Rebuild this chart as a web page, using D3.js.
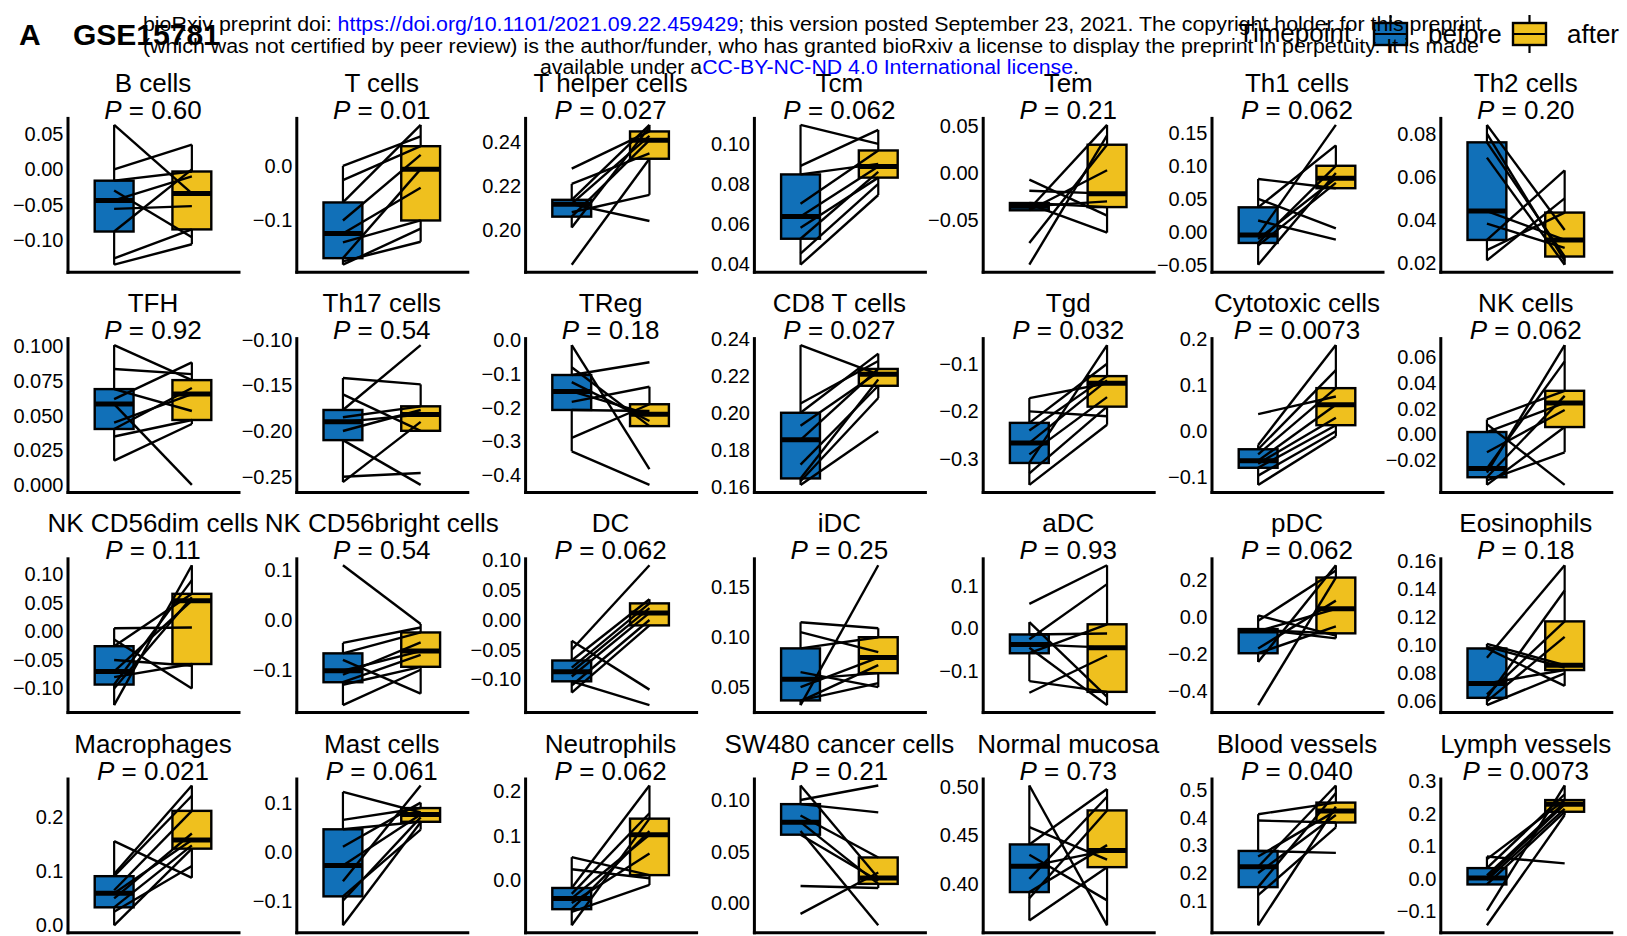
<!DOCTYPE html>
<html lang="en">
<head>
  <meta charset="UTF-8" />
  <title>GSE15781 paired boxplots</title>
  <style>
    body { margin: 0; background: #fff; }
    svg { display: block; font-family: 'Liberation Sans', Arial, Helvetica, sans-serif; }
    .pair { stroke: #000; stroke-width: 2.4; }
    .box { stroke: #000; stroke-width: 2.4; }
    .whisker { stroke: #000; stroke-width: 2.2; }
    .median { stroke: #000; stroke-width: 5; }
    .axis path { stroke: #000; stroke-width: 3; stroke-linecap: square; }
    .axis text { font-size: 20px; fill: #000; font-family: 'Liberation Sans', Arial, sans-serif; }
    .title { font-size: 26px; fill: #000; }
    .wm { font-size: 20px; fill: #000; }
    .link { fill: #0000ff; }
  </style>
</head>
<body>
  <div id="chart"></div>

  <script src="https://d3js.org/d3.v7.min.js"></script>
  <script>
    // ---- data (one entry per panel, row by row) ----
    const cellTypes = [
      "B cells", "T cells", "T helper cells", "Tcm", "Tem", "Th1 cells", "Th2 cells",
      "TFH", "Th17 cells", "TReg", "CD8 T cells", "Tgd", "Cytotoxic cells", "NK cells",
      "NK CD56dim cells", "NK CD56bright cells", "DC", "iDC", "aDC", "pDC", "Eosinophils",
      "Macrophages", "Mast cells", "Neutrophils", "SW480 cancer cells", "Normal mucosa", "Blood vessels", "Lymph vessels"
    ];

    const pValues = [
      "0.60", "0.01", "0.027", "0.062", "0.21", "0.062", "0.20",
      "0.92", "0.54", "0.18", "0.027", "0.032", "0.0073", "0.062",
      "0.11", "0.54", "0.062", "0.25", "0.93", "0.062", "0.18",
      "0.021", "0.061", "0.062", "0.21", "0.73", "0.040", "0.0073"
    ];

    // before[i][j] is paired with after[i][j]
    const beforeValues = [
      [0.063, 0.0, -0.016, -0.03, -0.044, -0.056, -0.088, -0.126, -0.135],
      [0.0, -0.026, -0.067, -0.10, -0.124, -0.14, -0.169, -0.175, -0.181],
      [0.228, 0.221, 0.2137, 0.212, 0.2117, 0.208, 0.206, 0.201, 0.184],
      [0.1095, 0.089, 0.0847, 0.07, 0.0636, 0.058, 0.0525, 0.045, 0.0395],
      [-0.007, -0.0187, -0.038, -0.074, -0.097, -0.0394, -0.0352, -0.033, -0.0317],
      [0.081, 0.051, 0.038, 0.018, -0.004, -0.01, -0.016, -0.02, -0.049],
      [0.0841, 0.080, 0.076, 0.0689, 0.0441, 0.0383, 0.0307, 0.026, 0.0212],
      [0.101, 0.0837, 0.0692, 0.062, 0.0584, 0.045, 0.0404, 0.035, 0.0175],
      [-0.142, -0.16, -0.177, -0.185, -0.19, -0.2, -0.21, -0.25, -0.256],
      [-0.014, -0.08, -0.103, -0.124, -0.152, -0.183, -0.207, -0.29, -0.33],
      [0.2366, 0.205, 0.20, 0.193, 0.1854, 0.172, 0.1645, 0.163, 0.161],
      [-0.172, -0.20, -0.224, -0.24, -0.266, -0.29, -0.308, -0.33, -0.354],
      [0.037, -0.03, -0.039, -0.05, -0.064, -0.07, -0.079, -0.096, -0.116],
      [0.0116, 0.008, 0.0018, -0.014, -0.0266, -0.03, -0.0335, -0.036, -0.0395],
      [0.0058, -0.014, -0.0258, -0.05, -0.07, -0.08, -0.093, -0.10, -0.129],
      [0.11, -0.046, -0.067, -0.08, -0.102, -0.11, -0.125, -0.13, -0.171],
      [-0.035, -0.05, -0.068, -0.08, -0.087, -0.095, -0.103, -0.11, -0.122],
      [0.115, 0.105, 0.0888, 0.065, 0.058, 0.05, 0.0367, 0.036, 0.032],
      [0.0577, 0.015, -0.0138, -0.025, -0.037, -0.045, -0.0577, -0.123, -0.15],
      [0.009, -0.02, -0.065, -0.07, -0.076, -0.17, -0.195, -0.242, -0.474],
      [0.101, 0.099, 0.0977, 0.091, 0.0727, 0.065, 0.0625, 0.06, 0.0573],
      [0.156, 0.095, 0.091, 0.065, 0.0594, 0.05, 0.0333, 0.025, 0.0],
      [0.122, 0.065, 0.0457, 0.01, -0.028, -0.06, -0.091, -0.1, -0.15],
      [0.052, 0.025, -0.0167, -0.03, -0.04, -0.05, -0.064, -0.07, -0.1],
      [0.114, 0.1, 0.096, 0.085, 0.0786, 0.07, 0.0665, 0.017, -0.01],
      [0.5017, 0.4586, 0.4407, 0.43, 0.418, 0.405, 0.3914, 0.385, 0.362],
      [0.413, 0.39, 0.28, 0.26, 0.2226, 0.2, 0.149, 0.12, 0.0107],
      [0.068, 0.06, 0.0323, 0.01, 0.002, -0.005, -0.018, -0.099, -0.144]
    ];

    const afterValues = [
      [-0.034, 0.035, -0.003, -0.096, -0.01, -0.052, 0.0, -0.085, -0.106],
      [0.054, 0.036, 0.075, 0.02, -0.04, -0.1, -0.006, -0.139, -0.115],
      [0.245, 0.235, 0.248, 0.243, 0.204, 0.216, 0.241, 0.247, 0.2325],
      [0.100, 0.107, 0.09, 0.0967, 0.0887, 0.0831, 0.086, 0.08, 0.0744],
      [-0.045, -0.0218, 0.051, 0.03, 0.04, 0.003, -0.03, -0.063, -0.036],
      [0.067, 0.006, 0.132, -0.011, 0.163, 0.082, 0.101, 0.075, 0.09],
      [0.0353, 0.021, 0.023, 0.0192, 0.0307, 0.027, 0.063, 0.0434, 0.05],
      [0.0757, 0.08, 0.0534, 0.0885, 0.0, 0.0656, 0.07, 0.0469, 0.044],
      [-0.149, -0.1998, -0.106, -0.173, -0.182, -0.177, -0.259, -0.246, -0.19],
      [-0.383, -0.255, -0.065, -0.24, -0.22, -0.138, -0.21, -0.19, -0.43],
      [0.2208, 0.228, 0.232, 0.222, 0.2237, 0.2146, 0.218, 0.208, 0.19],
      [-0.141, -0.21, -0.10, -0.126, -0.135, -0.17, -0.061, -0.19, -0.228],
      [0.075, 0.186, 0.132, 0.093, 0.057, 0.029, 0.013, 0.0, -0.011],
      [0.034, -0.0395, 0.0245, 0.019, 0.057, 0.0697, 0.03, -0.014, 0.0057],
      [0.007, -0.10, 0.066, -0.06, 0.054, -0.057, 0.09, 0.06, 0.116],
      [-0.008, -0.015, -0.025, -0.148, -0.0625, -0.045, -0.07, -0.094, -0.1],
      [-0.117, 0.092, 0.035, 0.028, 0.02, 0.012, -0.143, 0.0, -0.009],
      [0.109, 0.085, 0.10, 0.05, 0.064, 0.0796, 0.054, 0.072, 0.172],
      [0.148, -0.16, -0.0115, 0.104, -0.0446, -0.179, 0.01, -0.148, -0.063],
      [-0.1, 0.25, -0.115, -0.088, 0.044, 0.088, -0.05, 0.278, 0.212],
      [0.0857, 0.084, 0.071, 0.157, 0.0823, 0.117, 0.139, 0.106, 0.08],
      [0.088, 0.259, 0.24, 0.212, 0.158, 0.17, 0.148, 0.11, 0.142],
      [0.08, 0.089, 0.061, 0.1, 0.076, 0.135, 0.045, 0.07, 0.06],
      [0.012, 0.005, 0.212, 0.15, 0.102, 0.06, 0.11, -0.01, 0.138],
      [0.0247, 0.114, 0.088, 0.0445, 0.019, -0.021, 0.022, 0.015, 0.03],
      [0.357, 0.425, 0.498, 0.3828, 0.4345, 0.49, 0.44, 0.4759, 0.4172],
      [0.455, 0.383, 0.273, 0.425, 0.517, 0.41, 0.49, 0.365, 0.44],
      [0.047, 0.242, 0.26, 0.235, 0.229, 0.215, 0.206, 0.287, 0.196]
    ];

    const tickLabels = [
      ["−0.10", "−0.05", "0.00", "0.05"],
      ["−0.1", "0.0"],
      ["0.20", "0.22", "0.24"],
      ["0.04", "0.06", "0.08", "0.10"],
      ["−0.05", "0.00", "0.05"],
      ["−0.05", "0.00", "0.05", "0.10", "0.15"],
      ["0.02", "0.04", "0.06", "0.08"],
      ["0.000", "0.025", "0.050", "0.075", "0.100"],
      ["−0.25", "−0.20", "−0.15", "−0.10"],
      ["−0.4", "−0.3", "−0.2", "−0.1", "0.0"],
      ["0.16", "0.18", "0.20", "0.22", "0.24"],
      ["−0.3", "−0.2", "−0.1"],
      ["−0.1", "0.0", "0.1", "0.2"],
      ["−0.02", "0.00", "0.02", "0.04", "0.06"],
      ["−0.10", "−0.05", "0.00", "0.05", "0.10"],
      ["−0.1", "0.0", "0.1"],
      ["−0.10", "−0.05", "0.00", "0.05", "0.10"],
      ["0.05", "0.10", "0.15"],
      ["−0.1", "0.0", "0.1"],
      ["−0.4", "−0.2", "0.0", "0.2"],
      ["0.06", "0.08", "0.10", "0.12", "0.14", "0.16"],
      ["0.0", "0.1", "0.2"],
      ["−0.1", "0.0", "0.1"],
      ["0.0", "0.1", "0.2"],
      ["0.00", "0.05", "0.10"],
      ["0.40", "0.45", "0.50"],
      ["0.1", "0.2", "0.3", "0.4", "0.5"],
      ["−0.1", "0.0", "0.1", "0.2", "0.3"]
    ];

    const groups = ["before", "after"];
    const groupColors = ["#1170b8", "#efc01e"];

    // ---- layout ----
    const width = 1627, height = 936;
    const nCols = 7;
    const colX0 = 67.5, colStep = 228.8, panelW = 171;
    const rowBottom0 = 271.7, rowStep = 220.2, panelH = 153.8;

    const svg = d3.select("#chart").append("svg")
      .attr("width", width)
      .attr("height", height);

    svg.append("rect").attr("width", width).attr("height", height).attr("fill", "#fff");

    const x = d3.scalePoint().domain(groups).range([0, panelW]).padding(0.6);
    const boxW = x.step() * 0.5;

    // Tukey box stats (R type-7 quantiles)
    function boxStats(vals) {
      const s = vals.slice().sort(d3.ascending);
      const q1 = d3.quantileSorted(s, 0.25);
      const med = d3.quantileSorted(s, 0.5);
      const q3 = d3.quantileSorted(s, 0.75);
      const iqr = q3 - q1;
      const lo = d3.min(s.filter(v => v >= q1 - 1.5 * iqr));
      const hi = d3.max(s.filter(v => v <= q3 + 1.5 * iqr));
      return { q1, med, q3, lo, hi };
    }

    cellTypes.forEach((name, i) => {
      const col = i % nCols, row = Math.floor(i / nCols);
      const g = svg.append("g")
        .attr("transform", `translate(${colX0 + col * colStep},${rowBottom0 + row * rowStep - panelH})`);

      const [mn, mx] = d3.extent(beforeValues[i].concat(afterValues[i]));
      const pad = (mx - mn) * 0.05;
      const y = d3.scaleLinear().domain([mn - pad, mx + pad]).range([panelH, 0]);

      // boxes
      [beforeValues[i], afterValues[i]].forEach((vals, k) => {
        const st = boxStats(vals);
        const cx = x(groups[k]);
        g.append("line").attr("class", "whisker")
          .attr("x1", cx).attr("x2", cx).attr("y1", y(st.q3)).attr("y2", y(st.hi));
        g.append("line").attr("class", "whisker")
          .attr("x1", cx).attr("x2", cx).attr("y1", y(st.q1)).attr("y2", y(st.lo));
        g.append("rect").attr("class", "box")
          .attr("x", cx - boxW / 2)
          .attr("y", y(st.q3))
          .attr("width", boxW)
          .attr("height", y(st.q1) - y(st.q3))
          .attr("fill", groupColors[k]);
        g.append("line").attr("class", "median")
          .attr("x1", cx - boxW / 2).attr("x2", cx + boxW / 2)
          .attr("y1", y(st.med)).attr("y2", y(st.med));
      });

      // paired lines
      g.selectAll(".pair")
        .data(beforeValues[i].map((b, j) => [b, afterValues[i][j]]))
        .enter().append("line")
        .attr("class", "pair")
        .attr("x1", x("before")).attr("y1", d => y(d[0]))
        .attr("x2", x("after")).attr("y2", d => y(d[1]));

      // axes
      const ticks = tickLabels[i]
        .map(t => ({ label: t, value: +t.replace("−", "-") }))
        .filter(t => t.value >= y.domain()[0] && t.value <= y.domain()[1]);

      g.append("g").attr("class", "axis")
        .call(d3.axisLeft(y)
          .tickValues(ticks.map(t => t.value))
          .tickFormat((d, k) => ticks[k].label)
          .tickSize(0).tickSizeOuter(0).tickPadding(4))
        .attr("font-family", null).attr("font-size", null);

      g.append("g").attr("class", "axis")
        .attr("transform", `translate(0,${panelH})`)
        .call(d3.axisBottom(x).tickValues([]).tickSizeOuter(0));

      // title and P value
      g.append("text").attr("class", "title")
        .attr("x", panelW / 2).attr("y", -26)
        .attr("text-anchor", "middle")
        .text(name);
      const pt = g.append("text").attr("class", "title")
        .attr("x", panelW / 2).attr("y", 1)
        .attr("text-anchor", "middle");
      pt.append("tspan").attr("font-style", "italic").text("P");
      pt.append("tspan").text(" = " + pValues[i]);
    });

    // ---- header: panel tag, dataset, legend ----
    svg.append("text").attr("x", 19).attr("y", 45)
      .attr("font-size", 30).attr("font-weight", "bold").text("A");
    svg.append("text").attr("x", 73).attr("y", 45)
      .attr("font-size", 30).attr("font-weight", "bold").text("GSE15781");

    svg.append("text").attr("x", 1238).attr("y", 42)
      .attr("font-size", 26).text("Timepoint");

    const legendX = [1374, 1513];
    groups.forEach((grp, k) => {
      const lx = legendX[k];
      svg.append("line").attr("class", "whisker")
        .attr("x1", lx + 16.5).attr("x2", lx + 16.5).attr("y1", 15).attr("y2", 53);
      svg.append("rect").attr("class", "box")
        .attr("x", lx).attr("y", 23).attr("width", 33).attr("height", 22)
        .attr("fill", groupColors[k]);
      svg.append("line").attr("class", "whisker")
        .attr("x1", lx).attr("x2", lx + 33).attr("y1", 34).attr("y2", 34);
      svg.append("text").attr("x", lx + 54).attr("y", 43)
        .attr("font-size", 26).text(grp);
    });

    // ---- bioRxiv watermark ----
    const wm1 = svg.append("text").attr("class", "wm")
      .attr("x", 143).attr("y", 31)
      .attr("textLength", 1339).attr("lengthAdjust", "spacingAndGlyphs");
    wm1.append("tspan").text("bioRxiv preprint doi: ");
    wm1.append("tspan").attr("class", "link").text("https://doi.org/10.1101/2021.09.22.459429");
    wm1.append("tspan").text("; this version posted September 23, 2021. The copyright holder for this preprint");

    svg.append("text").attr("class", "wm")
      .attr("x", 143).attr("y", 52.5)
      .attr("textLength", 1336).attr("lengthAdjust", "spacingAndGlyphs")
      .text("(which was not certified by peer review) is the author/funder, who has granted bioRxiv a license to display the preprint in perpetuity. It is made");

    const wm3 = svg.append("text").attr("class", "wm")
      .attr("x", 540).attr("y", 74)
      .attr("textLength", 539).attr("lengthAdjust", "spacingAndGlyphs");
    wm3.append("tspan").text("available under a");
    wm3.append("tspan").attr("class", "link").text("CC-BY-NC-ND 4.0 International license");
    wm3.append("tspan").text(".");
  </script>
</body>
</html>
